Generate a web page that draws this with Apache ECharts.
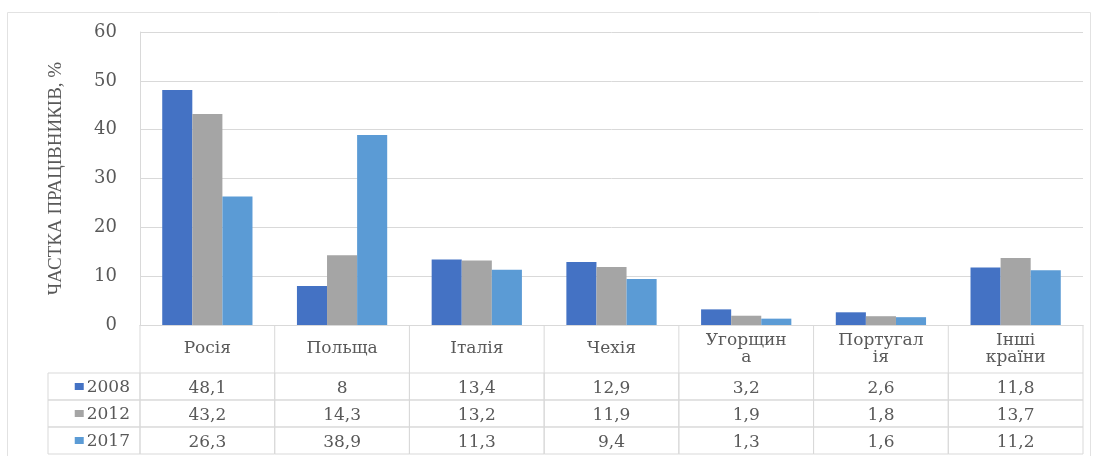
<!DOCTYPE html>
<html>
<head>
<meta charset="utf-8">
<script src="https://cdn.jsdelivr.net/npm/echarts@6/dist/echarts.min.js"></script>
<style>
html,body{margin:0;padding:0;background:#fff;}
#chart{width:1098px;height:456px;}
</style>
</head>
<body>
<div id="chart"></div>
<script>
// ---- data ----
const categories = ['Росія', 'Польща', 'Італія', 'Чехія', 'Угорщин\nа', 'Португал\nія', 'Інші\nкраїни'];
const years = ['2008', '2012', '2017'];
const v2008 = [48.1, 8, 13.4, 12.9, 3.2, 2.6, 11.8];
const v2012 = [43.2, 14.3, 13.2, 11.9, 1.9, 1.8, 13.7];
const v2017 = [26.3, 38.9, 11.3, 9.4, 1.3, 1.6, 11.2];
const yMin = 0, yMax = 60, yStep = 10;
const yTitle = 'ЧАСТКА ПРАЦІВНИКІВ, %';

// ---- style ----
const colors = ['#4472C4', '#A5A5A5', '#5B9BD5'];
const lineCol = '#d9d9d9';
const textCol = '#595959';
const font = 'DejaVu Serif';
const seriesValues = [v2008, v2012, v2017];

const tableData = [];
seriesValues.forEach((arr, r) => arr.forEach((v, c) => tableData.push([c, r, v])));

function fmt(v) { return String(v).replace('.', ','); }

function renderCell(params, api) {
  const c = api.value(0), r = api.value(1);
  const center = api.coord([c, r]);
  const size = api.size([1, 1]);
  const w = size[0], h = size[1];
  const x0 = center[0] - w / 2, y0 = center[1] - h / 2;
  const cs = params.coordSys;
  const ls = { stroke: lineCol, lineWidth: 1, fill: null };
  const children = [
    { type: 'rect', shape: { x: x0, y: y0, width: w, height: h }, style: ls },
    { type: 'text', style: { text: fmt(api.value(2)), x: center[0], y: center[1] + 2,
        align: 'center', verticalAlign: 'middle', fontSize: 17, fontFamily: font, fill: textCol } }
  ];
  if (c === 0) {
    children.push({ type: 'rect', shape: { x: cs.x - 92, y: y0, width: 92, height: h }, style: ls });
  }
  if (r === 0) {
    children.push({ type: 'line', shape: { x1: x0, y1: cs.y - 48, x2: x0, y2: y0 }, style: ls });
    if (c === categories.length - 1) {
      children.push({ type: 'line', shape: { x1: x0 + w, y1: cs.y - 48, x2: x0 + w, y2: y0 }, style: ls });
    }
  }
  return { type: 'group', children };
}

const chart = echarts.init(document.getElementById('chart'));
const rich = { t: { fontSize: 17, fontFamily: font, color: textCol, padding: [2, 0, 0, 3] } };
years.forEach((y, i) => { rich['s' + i] = { backgroundColor: colors[i], width: 9, height: 7 }; });

chart.setOption({
  animation: false,
  backgroundColor: '#fff',
  graphic: [{
    type: 'rect', silent: true,
    shape: { x: 7.5, y: 12.5, width: 1083, height: 470 },
    style: { fill: null, stroke: '#e2e2e2', lineWidth: 1 }
  }],
  grid: [
    { left: 140, right: 15, top: 32, height: 293 },
    { left: 140, right: 15, top: 373, height: 81 }
  ],
  xAxis: [
    {
      type: 'category', gridIndex: 0, data: categories,
      axisLine: { lineStyle: { color: lineCol } },
      axisTick: { show: false },
      splitLine: { show: false },
      axisLabel: { interval: 0, margin: 24, verticalAlign: 'middle', lineHeight: 17,
        fontSize: 17, fontFamily: font, color: textCol }
    },
    {
      type: 'category', gridIndex: 1, data: categories, show: false
    }
  ],
  yAxis: [
    {
      type: 'value', gridIndex: 0, min: yMin, max: yMax, interval: yStep,
      name: yTitle, nameLocation: 'middle', nameRotate: 90, nameGap: 74,
      nameTextStyle: { fontSize: 19, fontFamily: 'Liberation Serif', color: textCol },
      axisLine: { show: true, lineStyle: { color: lineCol } },
      axisTick: { show: false },
      splitLine: { lineStyle: { color: lineCol } },
      axisLabel: { margin: 23, fontSize: 18, fontFamily: font, color: textCol }
    },
    {
      type: 'category', gridIndex: 1, data: years, inverse: true,
      axisLine: { show: false }, axisTick: { show: false }, splitLine: { show: false },
      axisLabel: { margin: 10, formatter: (v, i) => '{s' + i + '|}{t|' + v + '}', rich: rich }
    }
  ],
  series: [
    { name: years[0], type: 'bar', xAxisIndex: 0, yAxisIndex: 0, data: v2008, barGap: '0%', barCategoryGap: '33%', itemStyle: { color: colors[0] } },
    { name: years[1], type: 'bar', xAxisIndex: 0, yAxisIndex: 0, data: v2012, barGap: '0%', barCategoryGap: '33%', itemStyle: { color: colors[1] } },
    { name: years[2], type: 'bar', xAxisIndex: 0, yAxisIndex: 0, data: v2017, barGap: '0%', barCategoryGap: '33%', itemStyle: { color: colors[2] } },
    { type: 'custom', xAxisIndex: 1, yAxisIndex: 1, data: tableData, renderItem: renderCell, silent: true }
  ]
});
</script>
</body>
</html>
